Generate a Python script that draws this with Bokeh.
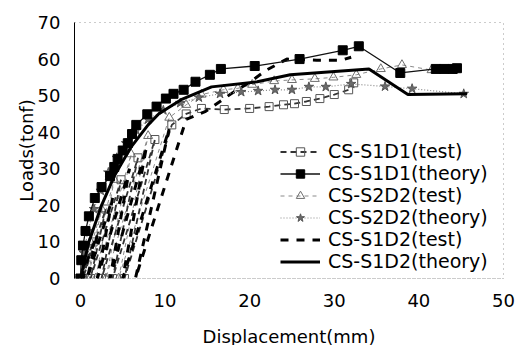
from bokeh.plotting import figure
from bokeh.models import Range1d, Legend, LegendItem
from bokeh.embed import file_html
from bokeh.resources import INLINE

# ---- data (displacement mm, load tonf) ----
s1d1_test_x = [0, 1.5, 0.3, 3.0, 1.2, 4.8, 2.5, 6.8, 3.8, 8.8, 5.2, 10.8, 12.5, 14.3, 17.0, 20.0, 22.3, 24.0, 25.3, 26.7, 28.3, 30.0, 31.7, 32.3]
s1d1_test_y = [0, 10, 0, 19, 0, 27, 0, 33, 0, 38, 0, 42, 45, 46.5, 46.2, 46.5, 47, 47.5, 47.8, 48.4, 49.2, 50.3, 51.6, 53.5]

s1d1_theory_x = [0, 0.1, 0.3, 0.6, 1.0, 1.7, 2.5, 3.5, 4.0, 4.4, 5.0, 5.6, 6.1, 6.6, 7.9, 9.0, 10.1, 11.0, 12.2, 13.6, 15.3, 16.6, 20.6, 25.9, 31.0, 32.9, 37.8, 42.0, 43.0, 44.0, 44.5]
s1d1_theory_y = [0, 5, 9, 13, 17, 22, 25, 28, 30.5, 32.7, 35, 37, 39.5, 42, 44.9, 47, 49.2, 50.5, 51.6, 53.8, 55.7, 57.3, 58.1, 60, 62.4, 63.5, 56.2, 57.3, 57.3, 57.3, 57.5]

s2d2_test_x = [0, 1.2, 0.2, 2.5, 0.8, 4.0, 1.8, 6.0, 3.0, 8.0, 4.5, 10.5, 12.5, 14.3, 16.9, 18.6, 20.3, 22.9, 25.0, 27.7, 29.9, 32.6, 35.5, 38.0, 41.5]
s2d2_test_y = [0, 10, 0, 19, 0, 27, 0, 34, 0, 39, 0, 44, 47.5, 50.3, 51.6, 52.0, 53.0, 54.0, 54.3, 54.6, 55.0, 55.7, 57.3, 58.4, 57.0]

s2d2_theory_x = [0, 0.4, 0.9, 1.6, 2.4, 3.3, 4.3, 5.4, 6.6, 8.0, 9.8, 11.8, 14.0, 16.5, 19.0, 21.0, 23.0, 25.0, 27.0, 29.0, 32.0, 36.0, 39.2, 45.3]
s2d2_theory_y = [0, 7, 13, 19, 24, 29, 33, 37, 40.5, 43.5, 46, 48, 49.5, 50.5, 51, 51.3, 51.6, 51.6, 52.4, 52.4, 53.2, 52.5, 51.9, 50.5]

s1d2_test_x = [0, 2.0, 0.8, 3.8, 2.0, 5.8, 3.5, 7.8, 5.0, 10.5, 6.5, 12.5, 14.8, 17.8, 20.1, 22.0, 24.4, 27.9, 30.8, 32.0]
s1d2_test_y = [0, 12, 0, 22, 0, 30, 0, 36, 0, 41, 0, 43.5, 45.7, 50.5, 53.8, 57.0, 60.0, 59.7, 59.7, 60.5]

s1d2_theory_x = [0, 1.0, 2.5, 4.0, 6.0, 8.0, 9.3, 11.9, 15.5, 20.9, 24.8, 34.1, 38.7, 45.7]
s1d2_theory_y = [0, 10, 20, 28, 36, 42, 45.1, 48.9, 52.4, 53.8, 55.7, 57.3, 50.3, 50.5]

x_ticks = [0, 10, 20, 30, 40, 50]
y_ticks = [0, 10, 20, 30, 40, 50, 60, 70]

labels = ["CS-S1D1(test)", "CS-S1D1(theory)", "CS-S2D2(test)",
          "CS-S2D2(theory)", "CS-S1D2(test)", "CS-S1D2(theory)"]

FONT = "DejaVu Sans"

p = figure(frame_width=429, frame_height=256,
           x_range=Range1d(-0.7, 50), y_range=Range1d(0, 70),
           output_backend="svg", toolbar_location=None,
           min_border_left=74, min_border_top=22,
           min_border_right=16, min_border_bottom=64)

p.xgrid.visible = False
p.ygrid.visible = False
p.outline_line_color = "#999999"
p.outline_line_dash = "1 4"
p.background_fill_color = "white"
p.border_fill_color = "white"

# draw series
r_s2t_l = p.line(s2d2_test_x, s2d2_test_y, line_color="#8a8a8a", line_width=1, line_dash="4 4")
r_s2t_m = p.scatter(s2d2_test_x, s2d2_test_y, marker="triangle", size=9,
                    fill_color=None, line_color="#6e6e6e", line_width=1)

r_s1t_l = p.line(s1d1_test_x, s1d1_test_y, line_color="#333333", line_width=1.8, line_dash="6 4")
r_s1t_m = p.scatter(s1d1_test_x, s1d1_test_y, marker="square", size=8,
                    fill_color=None, line_color="#555555", line_width=1)

r_s12t_l = p.line(s1d2_test_x, s1d2_test_y, line_color="black", line_width=3, line_dash="8 8")

r_s2th_l = p.line(s2d2_theory_x, s2d2_theory_y, line_color="#888888", line_width=1.2, line_dash="1 2")
r_s2th_m = p.scatter(s2d2_theory_x, s2d2_theory_y, marker="star", size=10,
                     fill_color="#6a6a6a", line_color="#555555", line_width=1)

r_s12th_l = p.line(s1d2_theory_x, s1d2_theory_y, line_color="black", line_width=3)

r_s1th_l = p.line(s1d1_theory_x, s1d1_theory_y, line_color="#111111", line_width=1.3)
r_s1th_m = p.scatter(s1d1_theory_x, s1d1_theory_y, marker="square", size=9,
                     fill_color="black", line_color="black")

legend = Legend(items=[
    LegendItem(label=labels[0], renderers=[r_s1t_l, r_s1t_m]),
    LegendItem(label=labels[1], renderers=[r_s1th_l, r_s1th_m]),
    LegendItem(label=labels[2], renderers=[r_s2t_l, r_s2t_m]),
    LegendItem(label=labels[3], renderers=[r_s2th_l, r_s2th_m]),
    LegendItem(label=labels[4], renderers=[r_s12t_l]),
    LegendItem(label=labels[5], renderers=[r_s12th_l]),
], location=(206, 6))
legend.label_text_font = FONT
legend.label_text_font_size = "19px"
legend.label_text_color = "black"
legend.glyph_width = 40
legend.glyph_height = 21
legend.label_height = 21
legend.label_standoff = 8
legend.spacing = 0
legend.padding = 0
legend.margin = 0
legend.border_line_alpha = 0
legend.background_fill_alpha = 0
p.add_layout(legend, "center")

# axes
p.xaxis.ticker = x_ticks
p.yaxis.ticker = y_ticks
for ax in (p.xaxis, p.yaxis):
    ax.major_label_text_font = FONT
    ax.major_label_text_font_size = "18px"
    ax.major_label_text_color = "black"
    ax.axis_label_text_font = FONT
    ax.axis_label_text_font_size = "18px"
    ax.axis_label_text_font_style = "normal"
    ax.axis_label_text_color = "black"
    ax.major_tick_in = 0
    ax.major_tick_out = 0
    ax.minor_tick_in = 0
    ax.minor_tick_out = 0

p.xaxis.axis_label = "Displacement(mm)"
p.yaxis.axis_label = "Loads(tonf)"
p.xaxis.axis_line_color = "#999999"
p.xaxis.axis_line_dash = "1 4"
p.yaxis.axis_line_color = "black"
p.yaxis.axis_line_width = 1
p.xaxis.major_label_standoff = 15
p.yaxis.major_label_standoff = 14
p.xaxis.axis_label_standoff = 16
p.yaxis.axis_label_standoff = -2

open("out.html", "w").write(file_html(p, INLINE))
